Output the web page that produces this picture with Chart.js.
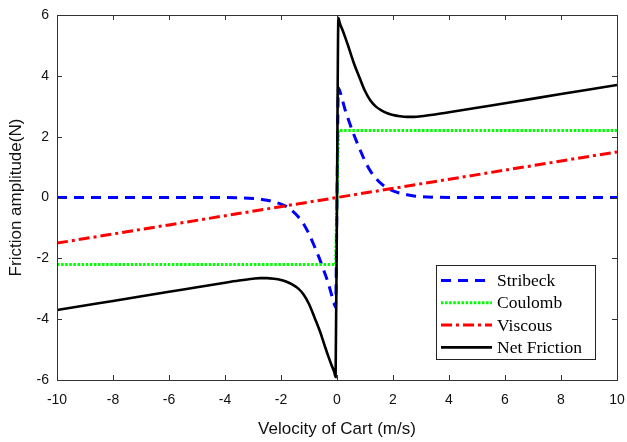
<!DOCTYPE html>
<html>
<head>
<meta charset="utf-8">
<script src="https://cdn.jsdelivr.net/npm/chart.js@4.4.1/dist/chart.umd.min.js"></script>
<style>
  body { margin: 0; background: #fff; }
  canvas { display: block; }
</style>
</head>
<body>
<canvas id="grafico" width="627" height="442"></canvas>
<script>
// Dados (velocidade em m/s, força em N)
const velocity = [-10, -8, -6, -5, -4, -3.5, -3, -2.75, -2.5, -2.25, -2, -1.8, -1.6, -1.4, -1.2, -1, -0.8, -0.6, -0.5, -0.4, -0.3, -0.2, -0.1, -0.05,
  0,
  0.05, 0.1, 0.2, 0.3, 0.4, 0.5, 0.6, 0.8, 1, 1.2, 1.4, 1.6, 1.8, 2, 2.25, 2.5, 2.75, 3, 3.5, 4, 5, 6, 8, 10];

const stribeck = [0, 0, 0, 0, 0, -0.01, -0.03, -0.05, -0.09, -0.14, -0.22, -0.3, -0.44, -0.62, -0.86, -1.2, -1.62, -2.07, -2.32, -2.58, -2.85, -3.18, -3.5, -3.6,
  0,
  3.6, 3.5, 3.18, 2.85, 2.58, 2.32, 2.07, 1.62, 1.2, 0.86, 0.62, 0.44, 0.3, 0.22, 0.14, 0.09, 0.05, 0.03, 0.01, 0, 0, 0, 0, 0];

const netFriction = [-3.7, -3.4, -3.1, -2.95, -2.8, -2.73, -2.67, -2.65, -2.65, -2.67, -2.71, -2.77, -2.86, -2.98, -3.18, -3.5, -3.95, -4.42, -4.7, -4.98, -5.25, -5.5, -5.73, -5.9,
  0,
  5.9, 5.73, 5.5, 5.25, 4.98, 4.7, 4.42, 3.95, 3.5, 3.18, 2.98, 2.86, 2.77, 2.71, 2.67, 2.65, 2.65, 2.67, 2.73, 2.8, 2.95, 3.1, 3.4, 3.7];

const coulombV = [-10, -0.05, 0, 0.05, 10];
const coulombF = [-2.2, -2.2, 0, 2.2, 2.2];

const viscousV = [-10, 0, 10];
const viscousF = [-1.5, 0, 1.5];

const xTicks = [-10, -8, -6, -4, -2, 0, 2, 4, 6, 8, 10];
const yTicks = [-6, -4, -2, 0, 2, 4, 6];

const seriesNames = ['Stribeck', 'Coulomb', 'Viscous', 'Net Friction'];

function pontos(xs, ys) {
    return xs.map((x, i) => ({ x: x, y: ys[i] }));
}

const estilos = [
    { color: '#0000ff', width: 3, dash: [10, 7] },
    { color: '#00ff00', width: 3, dash: [2.5, 1.6] },
    { color: '#ff0000', width: 3, dash: [11, 4, 3, 4] },
    { color: '#000000', width: 2.6, dash: [] }
];

// Caixa, marcas de escala para dentro e legenda no canto inferior direito
const caixaPlugin = {
    id: 'caixa',
    afterDraw(chart) {
        const ctx = chart.ctx;
        const a = chart.chartArea;
        const sx = chart.scales.x, sy = chart.scales.y;
        ctx.save();
        ctx.strokeStyle = '#333';
        ctx.lineWidth = 1;
        ctx.beginPath();
        xTicks.forEach(v => {
            const px = Math.round(sx.getPixelForValue(v)) + 0.5;
            ctx.moveTo(px, a.bottom); ctx.lineTo(px, a.bottom - 5);
            ctx.moveTo(px, a.top); ctx.lineTo(px, a.top + 5);
        });
        yTicks.forEach(v => {
            const py = Math.round(sy.getPixelForValue(v)) + 0.5;
            ctx.moveTo(a.left, py); ctx.lineTo(a.left + 5, py);
            ctx.moveTo(a.right, py); ctx.lineTo(a.right - 5, py);
        });
        ctx.stroke();
        ctx.strokeRect(Math.round(a.left) + 0.5, Math.round(a.top) + 0.5, Math.round(a.right - a.left), Math.round(a.bottom - a.top));

        // legenda
        const lx = a.right - 181, ly = a.bottom - 115;
        const lw = 159, lh = 94;
        ctx.fillStyle = '#fff';
        ctx.fillRect(lx, ly, lw, lh);
        ctx.strokeStyle = '#222';
        ctx.strokeRect(lx + 0.5, ly + 0.5, lw, lh);
        ctx.font = '17.5px "Liberation Serif", "Times New Roman", serif';
        ctx.textBaseline = 'middle';
        seriesNames.forEach((nome, i) => {
            const y = ly + 15.5 + i * 22.3;
            const e = estilos[i];
            ctx.strokeStyle = e.color;
            ctx.lineWidth = e.width;
            ctx.setLineDash(e.dash);
            ctx.beginPath();
            ctx.moveTo(lx + 5, y);
            ctx.lineTo(lx + 56, y);
            ctx.stroke();
            ctx.setLineDash([]);
            ctx.fillStyle = '#000';
            ctx.fillText(nome, lx + 61, y + 1);
        });
        ctx.restore();
    }
};

const fonteEixo = { family: '"Liberation Sans", Arial, Helvetica, sans-serif', size: 14 };
const fonteTitulo = { family: '"Liberation Sans", Arial, Helvetica, sans-serif', size: 17 };

const dados = [
    pontos(velocity, stribeck),
    pontos(coulombV, coulombF),
    pontos(viscousV, viscousF),
    pontos(velocity, netFriction)
];

new Chart(document.getElementById('grafico'), {
    type: 'line',
    data: {
        datasets: dados.map((d, i) => ({
            label: seriesNames[i],
            data: d,
            borderColor: estilos[i].color,
            borderWidth: estilos[i].width,
            borderDash: estilos[i].dash,
            pointRadius: 0,
            fill: false,
            cubicInterpolationMode: i === 0 || i === 3 ? 'monotone' : 'default',
            tension: 0,
            order: 3 - i
        }))
    },
    options: {
        responsive: false,
        animation: false,
        layout: { padding: { top: 15, right: 10, left: 0, bottom: 2 } },
        plugins: {
            legend: { display: false },
            tooltip: { enabled: false }
        },
        scales: {
            x: {
                type: 'linear',
                min: -10,
                max: 10,
                afterBuildTicks: s => { s.ticks = xTicks.map(v => ({ value: v })); },
                afterFit: s => { s.height = 60; s.paddingLeft = 0; s.paddingRight = 0; },
                grid: { display: false, drawTicks: false },
                border: { display: false },
                ticks: { color: '#111', font: fonteEixo, padding: 12, maxRotation: 0 },
                title: { display: true, text: 'Velocity of Cart (m/s)', color: '#111', font: fonteTitulo, padding: { top: 0, bottom: 0 } }
            },
            y: {
                type: 'linear',
                min: -6,
                max: 6,
                afterBuildTicks: s => { s.ticks = yTicks.map(v => ({ value: v })); },
                afterFit: s => { s.width = 57; s.paddingTop = 0; s.paddingBottom = 0; },
                grid: { display: false, drawTicks: false },
                border: { display: false },
                ticks: { color: '#111', font: fonteEixo, padding: 8 },
                title: { display: true, text: 'Friction amplitude(N)', color: '#111', font: fonteTitulo, padding: { top: 6, bottom: 0 } }
            }
        }
    },
    plugins: [caixaPlugin]
});
</script>
</body>
</html>
